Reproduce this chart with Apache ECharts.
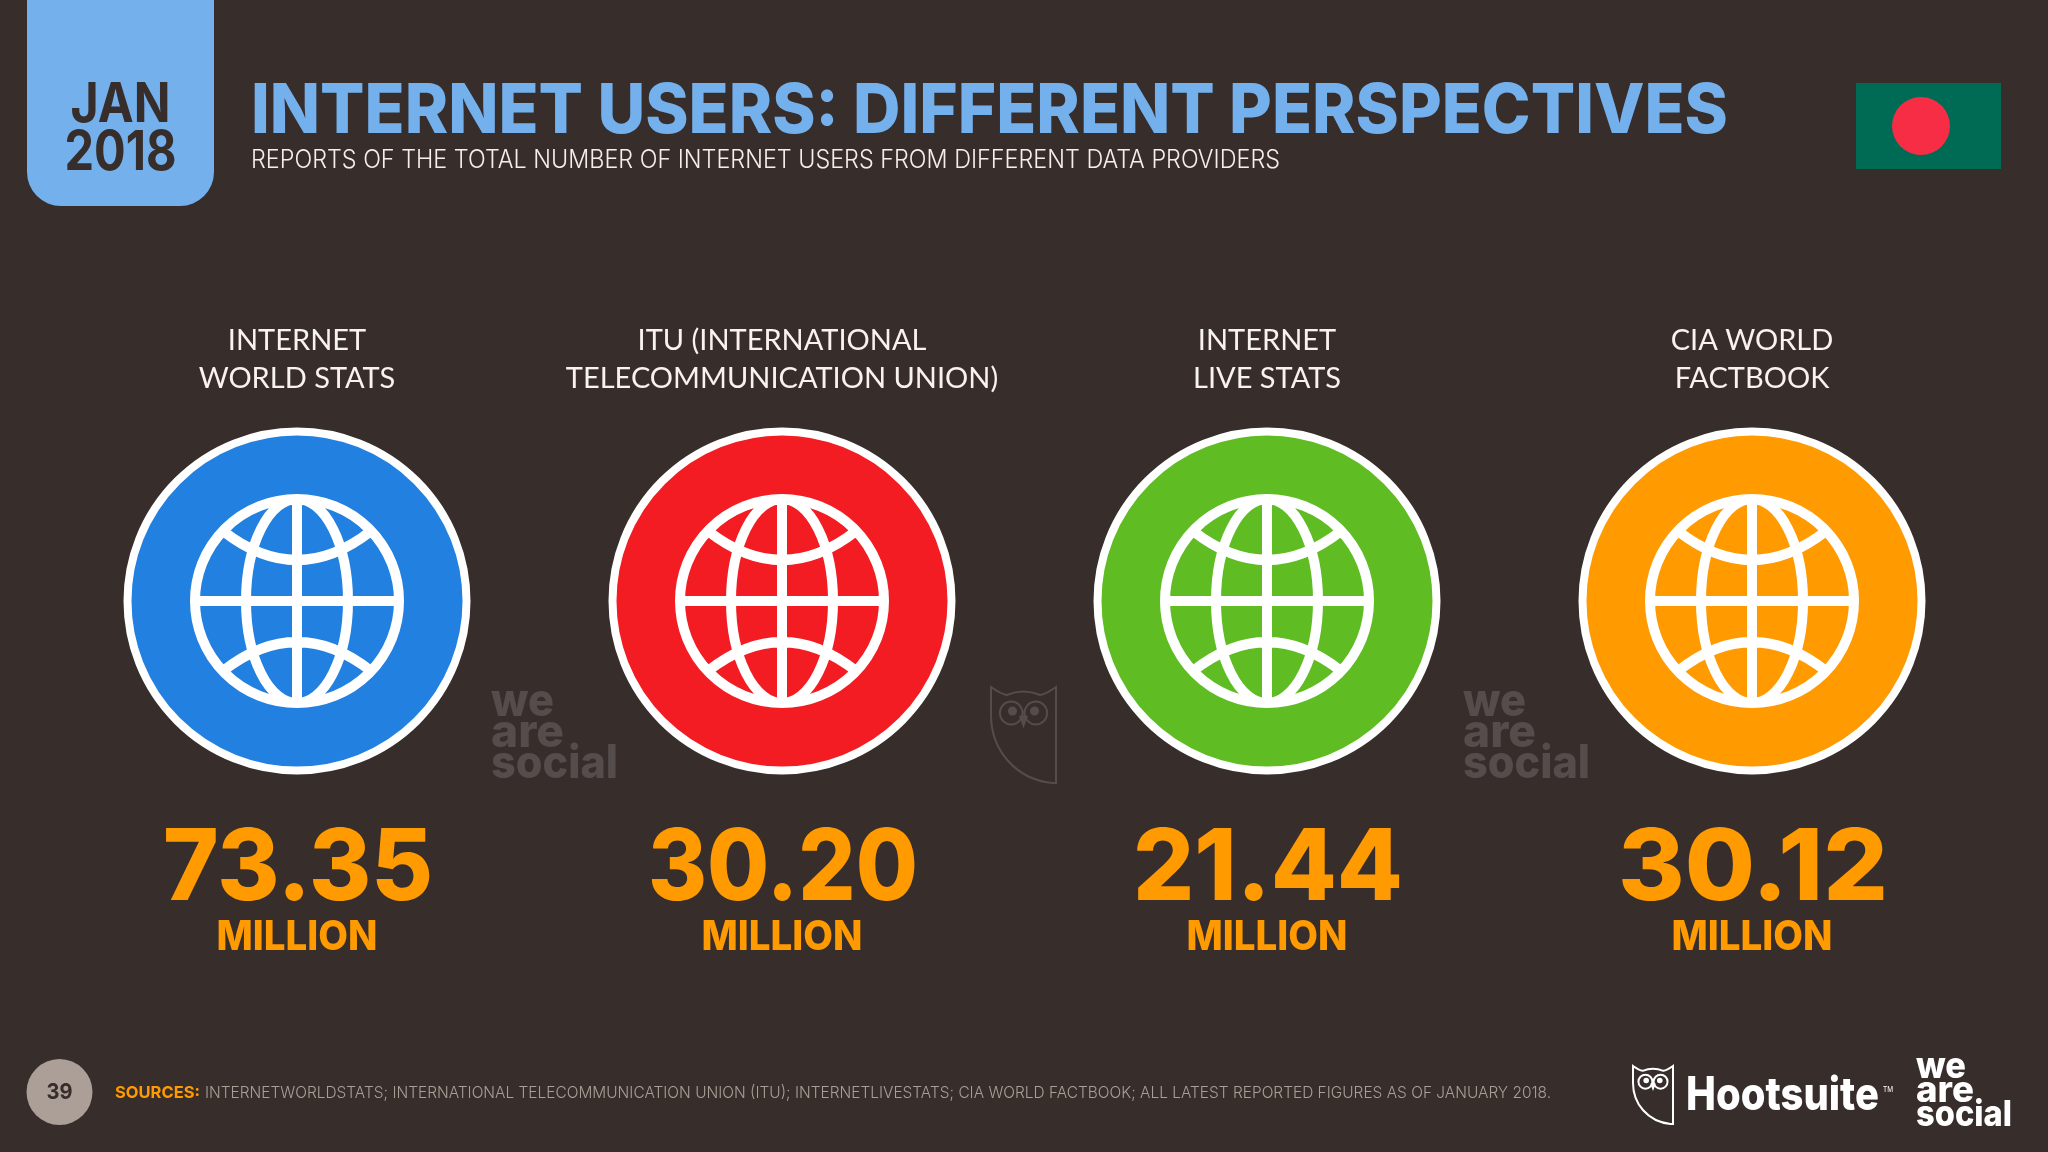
<!DOCTYPE html>
<html><head><meta charset="utf-8">
<style>html,body{margin:0;padding:0;background:#372e2c}#c{width:2048px;height:1152px}</style>
<script src="https://cdn.jsdelivr.net/npm/echarts@6/dist/echarts.min.js"></script>
</head><body><div id="c"></div>
<script>
const categories = ['INTERNET\nWORLD STATS','ITU (INTERNATIONAL\nTELECOMMUNICATION UNION)','INTERNET\nLIVE STATS','CIA WORLD\nFACTBOOK'];
const values = [73.35, 30.20, 21.44, 30.12];
const circleColors = ['#2280e0','#f21c22','#5fbc23','#ff9a00'];
const unit = 'MILLION';
const title = 'INTERNET USERS: DIFFERENT PERSPECTIVES';
const subtitle = 'REPORTS OF THE TOTAL NUMBER OF INTERNET USERS FROM DIFFERENT DATA PROVIDERS';
const sourceHead = 'SOURCES:';
const sourceText = 'INTERNETWORLDSTATS; INTERNATIONAL TELECOMMUNICATION UNION (ITU); INTERNETLIVESTATS; CIA WORLD FACTBOOK; ALL LATEST REPORTED FIGURES AS OF JANUARY 2018.';

const BG='#372e2c', ORANGE='#ff9a00', TILE='#74b0ec', MARK='#544d4c';
const F='Inter, "Open Sans", sans-serif';
const mc=document.createElement('canvas').getContext('2d');
function fit(text,x,y,w,font,fill,align){
  mc.font=font; const m=mc.measureText(text).width; const s=w/m;
  return {type:'text',x:x,y:y,scaleX:s,style:{text:text,font:font,fill:fill,align:align||'left',verticalAlign:'middle'}};
}
const GLOBE='M-102 0A102 102 0 1 1 102 0A102 102 0 1 1 -102 0Z M-102 0L102 0 M0 -102L0 102 '+
 'M0 -102A51 102 0 0 1 0 102A51 102 0 0 1 0 -102Z '+
 'M-74 -70Q0 -12 74 -70 M-74 70Q0 12 74 70';
const OWL='M0 0Q10 7 16 8Q33 1 50 8Q56 7 66 0L66 96L62 96C24 92 0 62 0 28Z '+
 'M9 26A11.5 11.5 0 1 1 32 26A11.5 11.5 0 1 1 9 26Z M34 26A11.5 11.5 0 1 1 57 26A11.5 11.5 0 1 1 34 26Z';
function owl(x,y,w,h,color,lw){
  return [
   {type:'path',shape:{pathData:OWL,layout:'cover',x:x,y:y,width:w,height:h},style:{fill:null,stroke:color,lineWidth:lw}},
   {type:'circle',shape:{cx:x+w*0.33,cy:y+h*0.25,r:w*0.07},style:{fill:color}},
   {type:'circle',shape:{cx:x+w*0.67,cy:y+h*0.25,r:w*0.07},style:{fill:color}},
   {type:'polygon',shape:{points:[[x+w*0.43,y+h*0.30],[x+w*0.57,y+h*0.30],[x+w*0.5,y+h*0.43]]},style:{fill:color}}
  ];
}
function wordmark(x,y0,dy,size,color,widths){
  const font='800 '+size+'px '+F;
  return ['we','are','social'].map((t,i)=>fit(t,x,y0+i*dy,widths[i],font,color,'left'));
}
const chrome=[
  {type:'path',shape:{pathData:'M27 0H214V172A34 34 0 0 1 180 206H61A34 34 0 0 1 27 172Z',layout:'cover',x:27,y:0,width:187,height:206},style:{fill:TILE}},
  fit('JAN',120.5,105,100,'700 55px '+F,BG,'center'),
  fit('2018',120.5,153,112,'700 55px '+F,BG,'center'),
  fit(title,251,112,1477,'800 69px '+F,TILE,'left'),
  fit(subtitle,251,160.5,1029,'300 25px '+F,'#f5efe9','left'),
  {type:'rect',shape:{x:1856,y:83,width:145,height:86},style:{fill:'#006b54'}},
  {type:'circle',shape:{cx:1921,cy:126,r:29},style:{fill:'#f72d45'}},
  {type:'circle',shape:{cx:59.5,cy:1092,r:33},style:{fill:'#ab9f97'}},
  fit('39',59.5,1092.5,26,'700 22px '+F,BG,'center'),
  fit(sourceHead,115,1093,85,'700 16.5px '+F,ORANGE,'left'),
  fit(sourceText,205,1093,1346,'300 16.5px '+F,'#a99f97','left'),
  fit('Hootsuite',1686,1096,193,'800 46px '+F,'#ffffff','left'),
  fit('TM',1883,1090,10,'400 8px '+F,'#ffffff','left'),
  ...owl(1633,1066,40,58,'#ffffff',2),
  ...owl(991,687,65,96,MARK,2),
  ...wordmark(1916,1067,24,36,'#ffffff',[50,58,96]),
  ...wordmark(491,702,31,46,MARK,[63,73,127]),
  ...wordmark(1463,702,31,46,MARK,[63,73,127])
];
const chart=echarts.init(document.getElementById('c'),null,{renderer:'canvas'});
chart.setOption({
  animation:false,
  backgroundColor:BG,
  grid:{left:54.5,width:1940,top:428,height:346},
  xAxis:{type:'category',data:categories,position:'top',axisLine:{show:false},axisTick:{show:false},splitLine:{show:false},
    axisLabel:{color:'#f8f3ee',fontFamily:'Lato',fontWeight:400,fontSize:29,lineHeight:38,margin:30,interval:0}},
  yAxis:{type:'category',data:['Internet users'],show:false},
  series:[{
    type:'custom',coordinateSystem:'none',silent:true,clip:false,data:[0],
    renderItem:function(){return {type:'group',children:chrome};}
  },{
    type:'custom',
    coordinateSystem:'cartesian2d',
    silent:true,
    clip:false,
    encode:{x:0,y:1},
    data:values.map((v,i)=>[i,0,v]),
    renderItem:function(p,api){
      const c=api.coord([api.value(0),api.value(1)]);
      const i=p.dataIndex, x=c[0], y=c[1];
      return {type:'group',children:[
        {type:'circle',shape:{cx:x,cy:y,r:169.5},style:{fill:circleColors[i],stroke:'#fff',lineWidth:8}},
        {type:'path',shape:{pathData:GLOBE,layout:'cover',x:x-102,y:y-102,width:204,height:204},style:{fill:null,stroke:'#fff',lineWidth:10}},
        fit(api.value(2).toFixed(2),x+1,870,270,'800 99px '+F,ORANGE,'center'),
        fit(unit,x,938,161,'800 41px '+F,ORANGE,'center')
      ]};
    }
  }]
});
</script></body></html>
